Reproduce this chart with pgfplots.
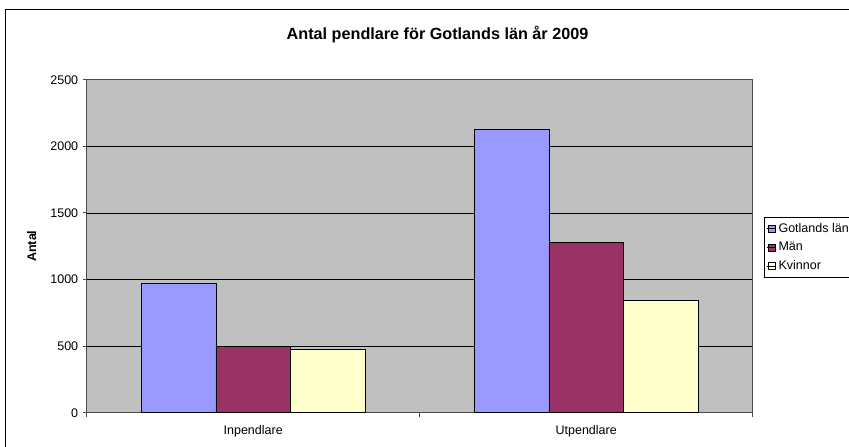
\documentclass[border=0pt]{standalone}
\usepackage{fontspec}
\setmainfont{Liberation Sans}
\usepackage{pgfplots}
\pgfplotsset{compat=1.18}
\definecolor{cBlue}{HTML}{9999FF}
\definecolor{cMan}{HTML}{993366}
\definecolor{cKv}{HTML}{FFFFCC}
\definecolor{cBg}{HTML}{C0C0C0}
\begin{document}
\begin{tikzpicture}[x=1pt,y=1pt]
\useasboundingbox (0pt,0pt) rectangle (849pt,447pt);
\draw[black, line width=1pt] (5pt,437pt) rectangle (870pt,-30pt);
\node[font=\fontsize{16.2}{19}\selectfont\bfseries] at (437.5pt,412pt) {Antal pendlare för Gotlands län år 2009};
\begin{axis}[
  at={(86.7pt,34.3pt)}, anchor=south west,
  scale only axis, width=666pt, height=333pt,
  ybar=0pt, bar width=74.5pt,
  xmin=-0.5, xmax=1.5, ymin=0, ymax=2500,
  ytick={0,500,...,2500},
  xtick={0,1}, xticklabels={Inpendlare,Utpendlare},
  tick pos=left,
  major x tick style={draw=none},
  extra x ticks={-0.5,0.5,1.5}, extra x tick labels={},
  extra x tick style={major tick length=4pt, tick align=outside, grid=none, tick pos=left, major x tick style={draw=gray!60!black}},
  tick align=outside, major tick length=4pt,
  tick style={draw=gray!60!black, line width=0.8pt},
  ymajorgrids, grid style={black, line width=0.7pt},
  axis line style={draw=gray!60!black, line width=1pt},
  axis background/.style={fill=cBg},
  /pgf/number format/assume math mode=true,
  /pgf/number format/1000 sep={},
  ticklabel style={font=\fontsize{12.5}{15}\selectfont},
  xticklabel style={yshift=-5pt},
  yticklabel style={xshift=-1pt},
  scaled y ticks=false,
  ylabel={\textbf{Antal}},
  ylabel style={at={(axis description cs:-0.0826,0.5)}, anchor=center, font=\fontsize{12.5}{15}\selectfont},
  legend style={at={(axis description cs:1.0175,0.405)}, anchor=south west,
    draw=black, line width=0.8pt, fill=white, font=\fontsize{12.5}{15}\selectfont,
    row sep=4.5pt, inner xsep=2pt, inner ysep=4pt},
  legend cell align=left,
  legend image code/.code={\draw[#1, line width=0.6pt] (1pt,-3.5pt) rectangle (8pt,3.5pt); \path (0pt,0pt) -- (9pt,0pt);},
]
\addplot[fill=cBlue, draw=black, line width=0.8pt] coordinates {(0,968) (1,2125)};
\addplot[fill=cMan, draw=black, line width=0.8pt] coordinates {(0,495) (1,1276)};
\addplot[fill=cKv, draw=black, line width=0.8pt] coordinates {(0,473) (1,843)};
\legend{Gotlands län,Män,Kvinnor}
\end{axis}
\end{tikzpicture}
\end{document}
